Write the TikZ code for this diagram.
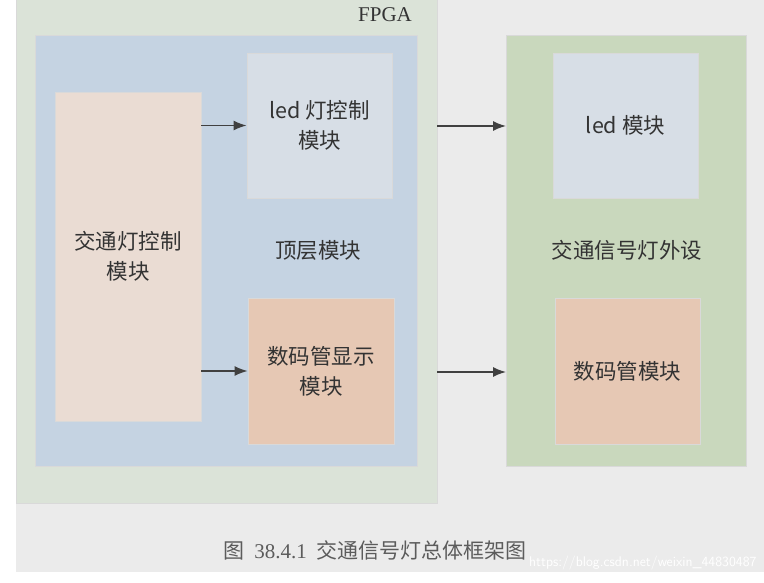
\documentclass[tikz,border=0pt]{standalone}
\usepackage{fontspec}
\setmainfont{Liberation Serif}
\newfontfamily\cjk{Noto Sans CJK SC}
\usetikzlibrary{arrows.meta}
\definecolor{bg}{HTML}{EBEBEB}
\definecolor{fpga}{HTML}{DBE3D8}
\definecolor{top}{HTML}{C5D3E2}
\definecolor{ctl}{HTML}{EADCD3}
\definecolor{led}{HTML}{D7DEE6}
\definecolor{seg}{HTML}{E6C8B4}
\definecolor{per}{HTML}{C9D8BD}
\definecolor{txt}{HTML}{333333}
\begin{document}
\begin{tikzpicture}[x=1pt,y=-1pt,
  box/.style={draw=black!15,line width=0.8pt},
  lbl/.style={text=txt,font=\cjk\fontsize{21.5}{30}\selectfont,align=center},
  arr/.style={-{Latex[length=13pt,width=10pt]},line width=1.5pt,draw=black!75}]
\useasboundingbox (0,0) rectangle (764,583);
\fill[white] (0,0) rectangle (764,583);
\fill[bg] (16,0) rectangle (764,572);
\draw[box,fill=fpga] (16,-2) rectangle (437,503);
\node[text=txt,font=\fontsize{21}{24}\selectfont] (fpgal) at (385,15) {FPGA};
\draw[box,fill=top] (35,35) rectangle (417,466);
\node[box,fill=ctl,minimum width=146pt,minimum height=329pt,inner sep=0pt] (ctl) at (128,256.5) {};
\node[lbl] (ctlt) at (ctl) {交通灯控制\\模块};
\node[box,fill=led,minimum width=145pt,minimum height=145pt,inner sep=0pt] (ledc) at (319.5,125.5) {};
\node[lbl] (ledct) at (ledc) {led 灯控制\\模块};
\node[lbl] (topt) at (318,250) {顶层模块};
\node[box,fill=seg,minimum width=146pt,minimum height=146pt,inner sep=0pt] (segd) at (321,371) {};
\node[lbl] (segdt) at (segd) {数码管显示\\模块};
\draw[box,fill=per] (506,35) rectangle (746,466);
\coordinate (pl1) at (506,126);
\coordinate (pl2) at (506,372);
\coordinate (fr1) at (437,126);
\coordinate (fr2) at (437,372);
\node[box,fill=led,minimum width=145pt,minimum height=145pt,inner sep=0pt] (ledm) at (625.5,125.5) {};
\node[lbl] (ledmt) at (ledm) {led 模块};
\node[lbl] (pert) at (627,250) {交通信号灯外设};
\node[box,fill=seg,minimum width=145pt,minimum height=146pt,inner sep=0pt] (segm) at (627.5,371) {};
\node[lbl] (segmt) at (segm) {数码管模块};
\draw[arr] (ctl.east|-ledc) -- (ledc.west);
\draw[arr] (ctl.east|-segd) -- (segd.west);
\draw[arr] (fr1) -- (pl1);
\draw[arr] (fr2) -- (pl2);
\node[text=txt!80,font=\cjk\fontsize{21}{24}\selectfont] (cap) at (375,550) {图\ \ {\fontspec{Liberation Serif}38.4.1}\ \ 交通信号灯总体框架图};
\node[text=white,font=\sffamily\fontsize{14}{16}\selectfont,anchor=east] (wm) at (760,563) {https://blog.csdn.net/weixin\_44830487};
\end{tikzpicture}
\end{document}
